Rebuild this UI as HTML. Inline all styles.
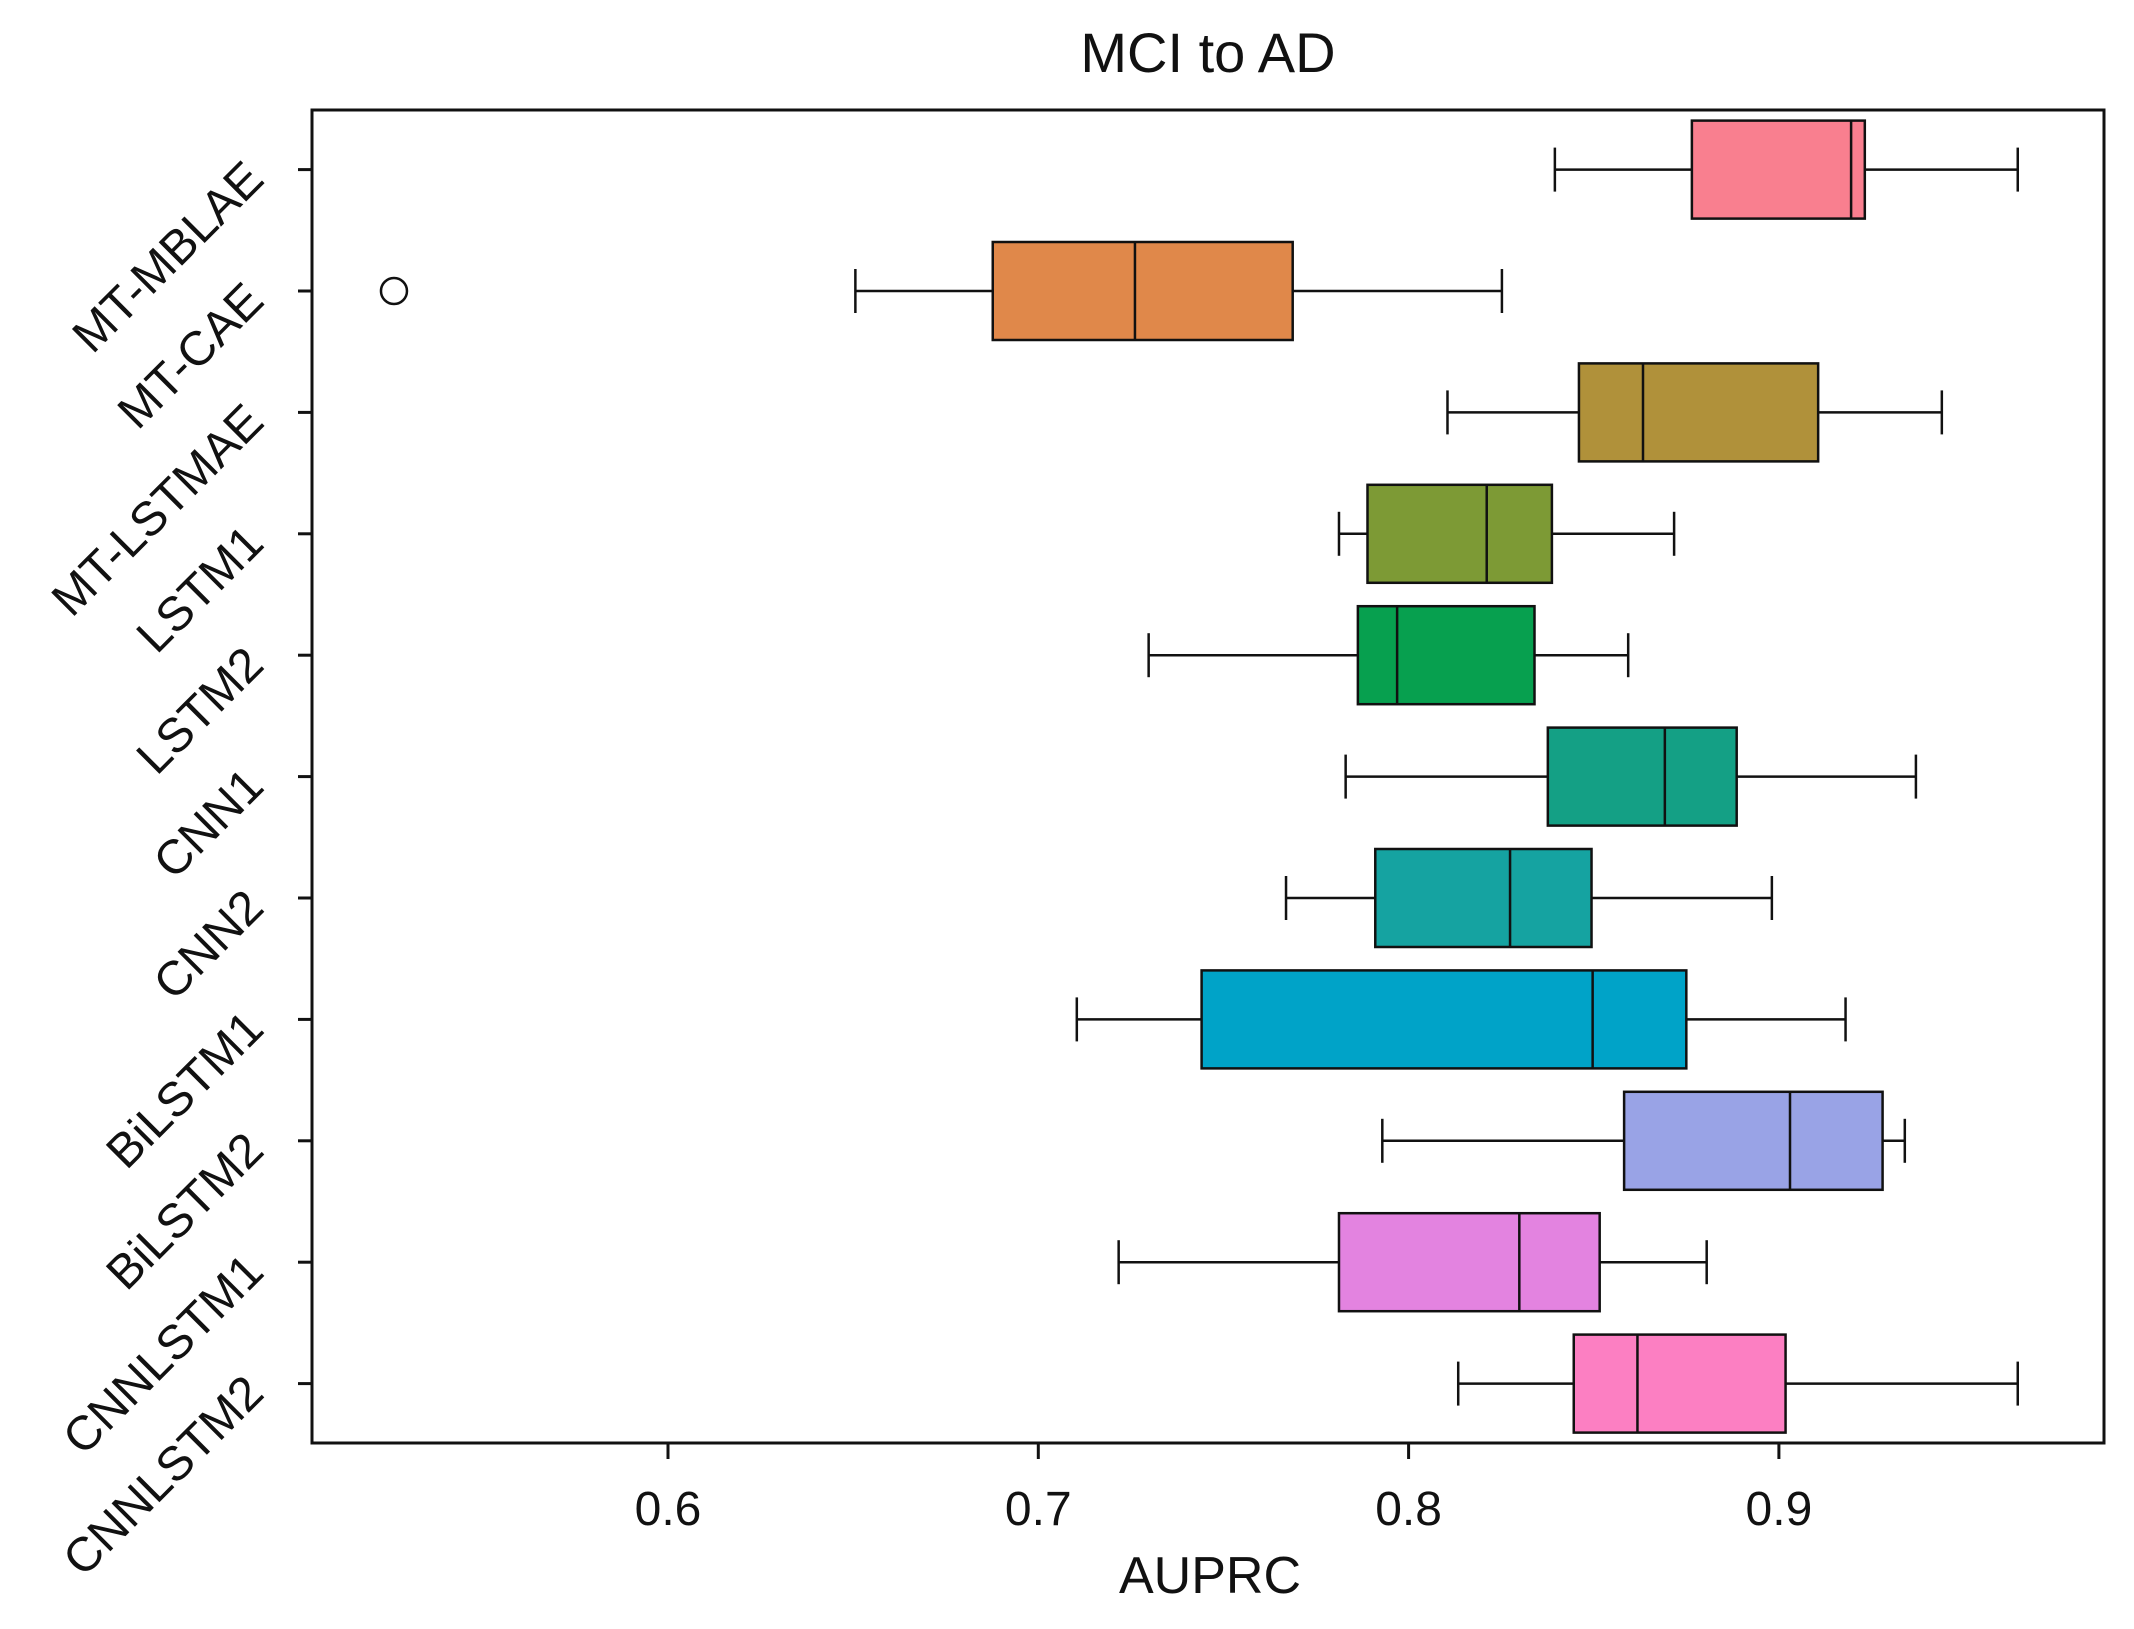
<!DOCTYPE html>
<html><head><meta charset="utf-8"><style>
html,body{margin:0;padding:0;background:#fff;}
svg text{font-family:"Liberation Sans",sans-serif;fill:#111;}
</style></head><body>
<svg id="chart" width="2134" height="1624" xmlns="http://www.w3.org/2000/svg">
<rect width="2134" height="1624" fill="#fff"/>
<text x="1208" y="72" font-size="56" text-anchor="middle">MCI to AD</text>
<text x="1210" y="1593" font-size="52" text-anchor="middle">AUPRC</text>
<g id="marks"></g>
<rect x="312" y="110" width="1792" height="1333" fill="none" stroke="#111" stroke-width="3"/>
</svg>
<script>
const categories = ["MT-MBLAE","MT-CAE","MT-LSTMAE","LSTM1","LSTM2","CNN1","CNN2","BiLSTM1","BiLSTM2","CNNLSTM1","CNNLSTM2"];
const whiskerLow = [0.8395,0.6506,0.8105,0.7812,0.7298,0.7830,0.7669,0.7104,0.7929,0.7217,0.8134];
const q1 = [0.8765,0.6877,0.8460,0.7889,0.7863,0.8376,0.7910,0.7441,0.8582,0.7812,0.8446];
const median = [0.9195,0.7261,0.8633,0.8211,0.7969,0.8692,0.8274,0.8497,0.9030,0.8299,0.8618];
const q3 = [0.9232,0.7687,0.9106,0.8387,0.8340,0.8886,0.8494,0.8750,0.9280,0.8516,0.9018];
const whiskerHigh = [0.9645,0.8252,0.9440,0.8717,0.8593,0.9370,0.8981,0.9180,0.9340,0.8805,0.9645];
const outlierCat = [1];
const outlierVal = [0.526];
const colors = ["#f97f8f","#e0884a","#b0913a","#7d9a35","#07a04f","#14a085","#15a3a1","#00a3c8","#99a3e6","#e383e0","#fc7fc2"];
const xTicks = [0.6,0.7,0.8,0.9];
const xTickLabels = ["0.6","0.7","0.8","0.9"];

const NS="http://www.w3.org/2000/svg";
const g=document.getElementById('marks');
function xs(v){return 668+(v-0.6)*3703;}
function ys(i){return 169.6+i*121.4;}
function mk(tag,attrs,parent){const e=document.createElementNS(NS,tag);for(const k in attrs)e.setAttribute(k,attrs[k]);(parent||g).appendChild(e);return e;}
const half=49, cap=44;
categories.forEach((c,i)=>{
  const y=ys(i);
  const grp=mk('g',{});
  
  
  const st={stroke:'#111','stroke-width':2.5,fill:'none'};
  mk('line',Object.assign({x1:xs(whiskerLow[i]),x2:xs(q1[i]),y1:y,y2:y},st),grp);
  mk('line',Object.assign({x1:xs(q3[i]),x2:xs(whiskerHigh[i]),y1:y,y2:y},st),grp);
  mk('line',Object.assign({x1:xs(whiskerLow[i]),x2:xs(whiskerLow[i]),y1:y-cap/2,y2:y+cap/2},st),grp);
  mk('line',Object.assign({x1:xs(whiskerHigh[i]),x2:xs(whiskerHigh[i]),y1:y-cap/2,y2:y+cap/2},st),grp);
  mk('rect',{x:xs(q1[i]),y:y-half,width:xs(q3[i])-xs(q1[i]),height:half*2,fill:colors[i],stroke:'#111','stroke-width':2.5},grp);
  mk('line',Object.assign({x1:xs(median[i]),x2:xs(median[i]),y1:y-half,y2:y+half},st),grp);
  const tk=mk('line',{x1:298,x2:312,y1:y,y2:y,stroke:'#111','stroke-width':3});
  
  
  const t=mk('text',{x:266,y:y+12,'font-size':48,'text-anchor':'end',transform:`rotate(-45 266 ${y+12})`});
  t.textContent=c;
  
  
});
outlierCat.forEach((c,k)=>{
  const o=mk('circle',{cx:xs(outlierVal[k]),cy:ys(c),r:13,fill:'none',stroke:'#111','stroke-width':2.5});
  
  
});
xTicks.forEach((v,k)=>{
  const l=mk('line',{x1:xs(v),x2:xs(v),y1:1443,y2:1459,stroke:'#111','stroke-width':3});
  
  
  const t=mk('text',{x:xs(v),y:1525,'font-size':48,'text-anchor':'middle'});
  t.textContent=xTickLabels[k];
  
  
});
</script>
</body></html>
